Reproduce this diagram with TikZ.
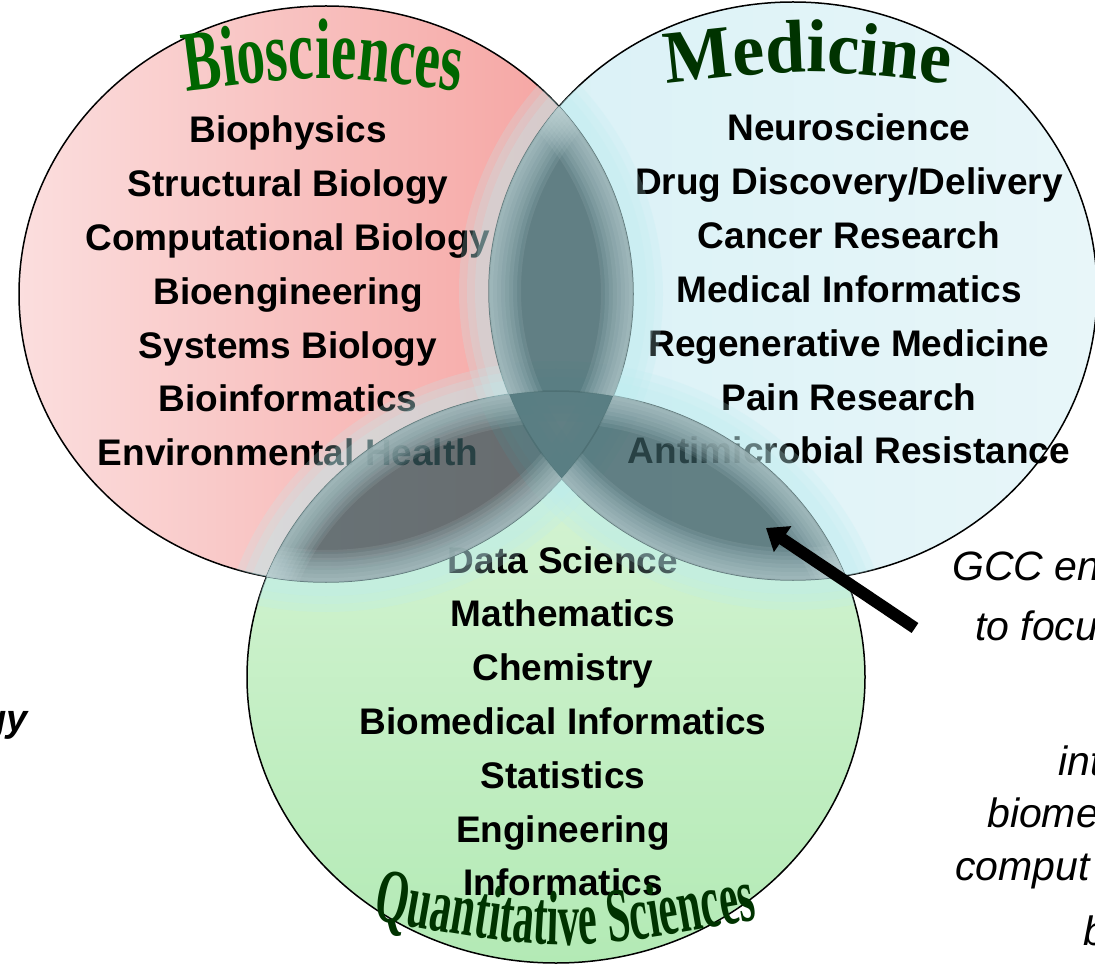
\documentclass[tikz,border=0pt]{standalone}
\usepackage{fontspec}
\setmainfont{Liberation Sans}
\newfontfamily\bioTF[FakeStretch=0.66]{Liberation Serif}
\newfontfamily\medTF[FakeStretch=0.96]{Liberation Serif}
\newfontfamily\quTF[FakeStretch=0.55]{Liberation Serif}
\newcommand\bioTitleFont{\fontsize{86}{86}\selectfont\bioTF\bfseries}
\newcommand\medTitleFont{\fontsize{75}{75}\selectfont\medTF\bfseries}
\newcommand\quTitleFont{\fontsize{77}{77}\selectfont\quTF\bfseries}
\usetikzlibrary{arrows.meta,decorations.text}
\definecolor{bioL}{HTML}{FBDEDE}
\definecolor{bioR}{HTML}{F59E9B}
\definecolor{medL}{HTML}{D9F1F6}
\definecolor{medR}{HTML}{E8F6F9}
\definecolor{quT}{HTML}{DAF5D8}
\definecolor{quB}{HTML}{B3EAB5}
\definecolor{darkC}{HTML}{37585D}
\definecolor{glowC}{HTML}{BDEDF0}
\definecolor{fadeC}{HTML}{CCDFE1}
\definecolor{bioG}{HTML}{006600}
\definecolor{medG}{HTML}{003300}
\tikzset{
  lst/.style={font=\fontsize{37}{37}\selectfont\bfseries, anchor=base, inner sep=0pt},
  side/.style={font=\fontsize{41}{41}\selectfont\itshape, anchor=base west, inner sep=0pt},
  ring/.style={draw=black, line width=1.5pt},
}
\begin{document}
\begin{tikzpicture}[x=1pt,y=-1pt]
\useasboundingbox (0,0) rectangle (1095,965);
\clip (0,0) rectangle (1095,965);
% circle fills
\shade[top color=quT, bottom color=quB] (556,677) ellipse [x radius=309pt, y radius=286pt];
\shade[left color=bioL, right color=bioR] (326,294) ellipse [x radius=307pt, y radius=288pt];
\shade[left color=medL, right color=medR] (793,291) ellipse [x radius=304pt, y radius=289pt];
% outlines
\path[ring] (556,677) ellipse [x radius=309pt, y radius=286pt];
\path[ring] (326,294) ellipse [x radius=307pt, y radius=288pt];
\path[ring] (793,291) ellipse [x radius=304pt, y radius=289pt];
% lists
\foreach \t [count=\i] in {Biophysics, Structural Biology, Computational Biology, Bioengineering, Systems Biology, Bioinformatics, Environmental Health}
  \node[lst] (bio\i) at (288,{143+53.8*(\i-1)}) {\t};
\foreach \t [count=\i] in {Neuroscience, Drug Discovery/Delivery, Cancer Research, Medical Informatics, Regenerative Medicine, Pain Research, Antimicrobial Resistance}
  \node[lst] (med\i) at (849,{141+53.8*(\i-1)}) {\t};
\foreach \t [count=\i] in {Data Science, Mathematics, Chemistry, Biomedical Informatics, Statistics, Engineering, Informatics}
  \node[lst] (qu\i) at (563,{573+53.8*(\i-1)}) {\t};
% glow around overlaps
\foreach \w in {60,44,28}{
\begin{scope}
  \clip (326,294) ellipse [x radius=307pt, y radius=288pt];
  \draw[glowC, line width=\w pt, opacity=0.22] (793,291) ellipse [x radius=304pt, y radius=289pt];
  \draw[glowC, line width=\w pt, opacity=0.22] (556,677) ellipse [x radius=309pt, y radius=286pt];
\end{scope}
\begin{scope}
  \clip (793,291) ellipse [x radius=304pt, y radius=289pt];
  \draw[glowC, line width=\w pt, opacity=0.22] (326,294) ellipse [x radius=307pt, y radius=288pt];
  \draw[glowC, line width=\w pt, opacity=0.22] (556,677) ellipse [x radius=309pt, y radius=286pt];
\end{scope}
\begin{scope}
  \clip (556,677) ellipse [x radius=309pt, y radius=286pt];
  \draw[glowC, line width=\w pt, opacity=0.22] (326,294) ellipse [x radius=307pt, y radius=288pt];
  \draw[glowC, line width=\w pt, opacity=0.22] (793,291) ellipse [x radius=304pt, y radius=289pt];
\end{scope}
}
% dark overlaps
\begin{scope}[transparency group, opacity=0.74]
  \begin{scope}
    \clip (326,294) ellipse [x radius=307pt, y radius=288pt];
    \fill[darkC] (793,291) ellipse [x radius=304pt, y radius=289pt];
    \fill[darkC] (556,677) ellipse [x radius=309pt, y radius=286pt];
  \end{scope}
  \begin{scope}
    \clip (793,291) ellipse [x radius=304pt, y radius=289pt];
    \fill[darkC] (556,677) ellipse [x radius=309pt, y radius=286pt];
  \end{scope}
\end{scope}
% soft inner edges of the lobes
\begin{scope}[even odd rule]
  \clip (326,294) ellipse [x radius=307pt, y radius=288pt];
  \clip (793,291) ellipse [x radius=304pt, y radius=289pt];
  \clip (-20,-20) rectangle (1115,985) (556,677) ellipse [x radius=309pt, y radius=286pt];
  \foreach \w in {64,56,48,40,32,24,16,8}{
    \draw[fadeC, line width=\w pt, opacity=0.11] (326,294) ellipse [x radius=307pt, y radius=288pt];
    \draw[fadeC, line width=\w pt, opacity=0.11] (793,291) ellipse [x radius=304pt, y radius=289pt];
  }
\end{scope}
\begin{scope}[even odd rule]
  \clip (326,294) ellipse [x radius=307pt, y radius=288pt];
  \clip (556,677) ellipse [x radius=309pt, y radius=286pt];
  \clip (-20,-20) rectangle (1115,985) (793,291) ellipse [x radius=304pt, y radius=289pt];
  \foreach \w in {64,56,48,40,32,24,16,8}{
    \draw[fadeC, line width=\w pt, opacity=0.11] (326,294) ellipse [x radius=307pt, y radius=288pt];
    \draw[fadeC, line width=\w pt, opacity=0.11] (556,677) ellipse [x radius=309pt, y radius=286pt];
  }
\end{scope}
\begin{scope}[even odd rule]
  \clip (793,291) ellipse [x radius=304pt, y radius=289pt];
  \clip (556,677) ellipse [x radius=309pt, y radius=286pt];
  \clip (-20,-20) rectangle (1115,985) (326,294) ellipse [x radius=307pt, y radius=288pt];
  \foreach \w in {64,56,48,40,32,24,16,8}{
    \draw[fadeC, line width=\w pt, opacity=0.11] (793,291) ellipse [x radius=304pt, y radius=289pt];
    \draw[fadeC, line width=\w pt, opacity=0.11] (556,677) ellipse [x radius=309pt, y radius=286pt];
  }
\end{scope}
% titles
\path[decorate, decoration={text along path, text={|\bioTitleFont|Biosciences}, text align=center, text color=bioG}]
  (183,92) .. controls (323,74) .. (463,92);
\path[decorate, decoration={text along path, text={|\medTitleFont|Medicine}, text align=center, text color=medG}]
  (663,84) .. controls (808,68) .. (953,84);
\path[decorate, decoration={text along path, text={|\quTitleFont|Quantitative Sciences}, text align=center, text color=medG}]
  (366,918) .. controls (565,954) .. (764,918);
% arrow
\coordinate (arS) at (915,628);
\coordinate (arT) at (766,528);
\draw[line width=12pt, -{Triangle[length=20pt,width=30pt]}] (arS) -- (arT);
% side texts
\node[side] (s1) at (952,580) {GCC en};
\node[side] (s2) at (975,640) {to focu};
\node[side] (s3) at (1058,775) {int};
\node[side] (s4) at (987,827) {biome};
\node[side] (s5) at (955,880) {comput};
\node[side] (s6) at (1083,945) {b};
\node[font=\fontsize{38}{38}\selectfont\bfseries\itshape, anchor=base east, inner sep=0pt] (lg) at (28,731) {gy};
\end{tikzpicture}
\end{document}
